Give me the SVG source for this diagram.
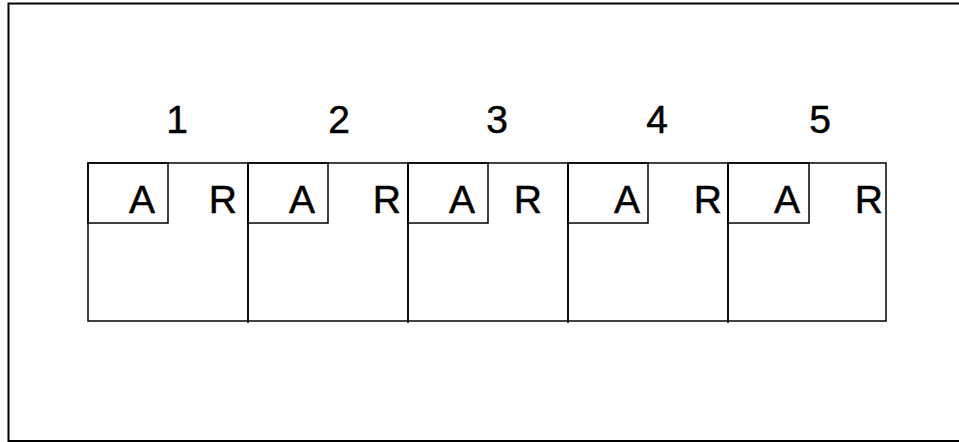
<svg xmlns="http://www.w3.org/2000/svg" width="959" height="442" viewBox="0 0 959 442">
<style>
.frame{fill:none;stroke:#000;stroke-width:2}
.ln{fill:none;stroke:#000;stroke-width:1.5}
.t{font-family:"Liberation Sans",Arial,sans-serif;font-size:39px;fill:#000;stroke:#000;stroke-width:0.5}
.n{text-anchor:middle}
.e{text-anchor:end}
</style>
<rect width="959" height="442" fill="#fff"/>
<path class="frame" d="M960,3.5 H8.5 V441 H960"/>
<g id="connectors"></g>
<g id="cell1">
<rect class="ln" x="88" y="163" width="160" height="158"/>
<rect class="ln" x="88" y="163" width="80" height="60"/>
<text class="t n" x="177" y="133">1</text>
<text class="t e" x="155" y="213">A</text>
<text class="t e" x="237" y="213">R</text>
</g>
<g id="cell2">
<rect class="ln" x="248" y="163" width="160" height="158"/>
<rect class="ln" x="248" y="163" width="80" height="60"/>
<line class="ln" x1="248" y1="321" x2="248" y2="323"/>
<text class="t n" x="339" y="133">2</text>
<text class="t e" x="315" y="213">A</text>
<text class="t e" x="401" y="213">R</text>
</g>
<g id="cell3">
<rect class="ln" x="408" y="163" width="160" height="158"/>
<rect class="ln" x="408" y="163" width="80" height="60"/>
<line class="ln" x1="408" y1="321" x2="408" y2="323"/>
<text class="t n" x="497" y="133">3</text>
<text class="t e" x="475" y="213">A</text>
<text class="t e" x="542" y="213">R</text>
</g>
<g id="cell4">
<rect class="ln" x="568" y="163" width="160" height="158"/>
<rect class="ln" x="568" y="163" width="80" height="60"/>
<line class="ln" x1="568" y1="321" x2="568" y2="323"/>
<text class="t n" x="657" y="133">4</text>
<text class="t e" x="640" y="213">A</text>
<text class="t e" x="722" y="213">R</text>
</g>
<g id="cell5">
<rect class="ln" x="728" y="163" width="158" height="158"/>
<rect class="ln" x="728" y="163" width="81" height="60"/>
<line class="ln" x1="728" y1="321" x2="728" y2="323"/>
<text class="t n" x="820" y="133">5</text>
<text class="t e" x="800" y="213">A</text>
<text class="t e" x="883" y="213">R</text>
</g>
</svg>
